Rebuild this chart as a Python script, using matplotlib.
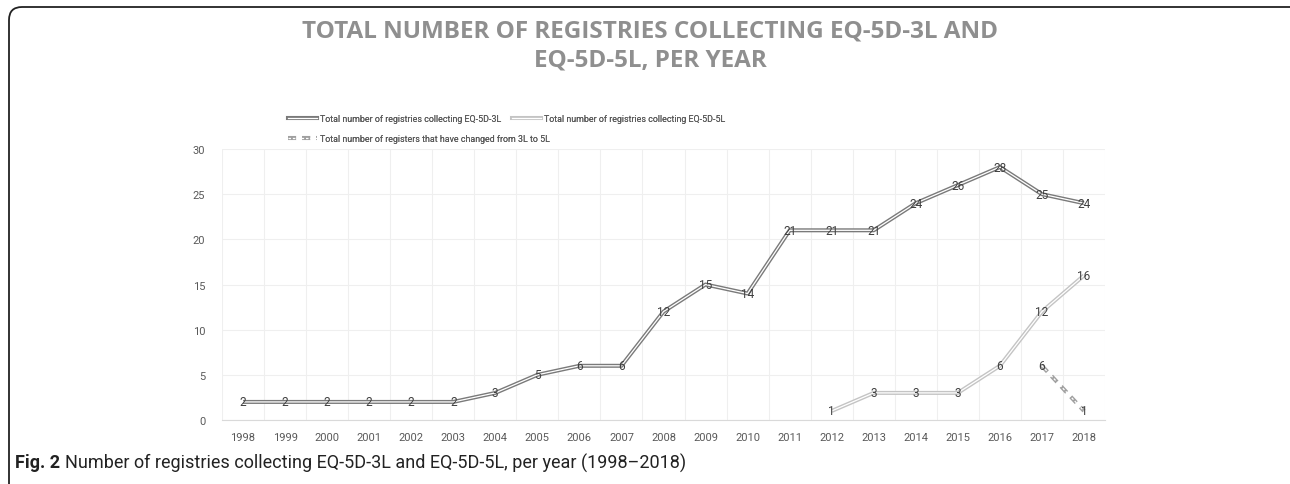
import matplotlib.pyplot as plt
from matplotlib.lines import Line2D
from matplotlib.patches import FancyBboxPatch
from matplotlib.legend_handler import HandlerTuple

years = list(range(1998, 2019))
eq3l = [2, 2, 2, 2, 2, 2, 3, 5, 6, 6, 12, 15, 14, 21, 21, 21, 24, 26, 28, 25, 24]
years_5l = list(range(2012, 2019))
eq5l = [1, 3, 3, 3, 6, 12, 16]
years_changed = [2017, 2018]
changed = [6, 1]

title = "TOTAL NUMBER OF REGISTRIES COLLECTING EQ-5D-3L AND\nEQ-5D-5L, PER YEAR"
lbl_3l = "Total number of registries collecting EQ-5D-3L"
lbl_5l = "Total number of registries collecting EQ-5D-5L"
lbl_ch = "Total number of registers that have changed from 3L to 5L"

font = ['Roboto', 'DejaVu Sans']
W, H = 1290, 485
fig = plt.figure(figsize=(W / 100, H / 100), dpi=100)
ax = fig.add_axes([222 / W, 1 - 421 / H, (1105 - 222) / W, (421 - 150) / H])

dark, light, dashc = '#7a7a7a', '#c4c4c4', '#a0a0a0'
dash = (0, (2, 1.5))

def double_line(x, y, col, ls='-'):
    ax.plot(x, y, color=col, lw=2.9, ls=ls, solid_capstyle='butt', zorder=3)
    ax.plot(x, y, color='white', lw=0.9, ls=ls, solid_capstyle='butt', zorder=4)

xi = {y: i for i, y in enumerate(years)}
double_line([xi[y] for y in years], eq3l, dark)
double_line([xi[y] for y in years_5l], eq5l, light)
double_line([xi[y] for y in years_changed], changed, dashc, ls=dash)

for xs, vs in [(years, eq3l), (years_5l, eq5l), (years_changed, changed)]:
    for y, v in zip(xs, vs):
        ax.text(xi[y], v, str(v), ha='center', va='center', fontsize=8.5,
                color='#404040', family=font, zorder=5)

ax.set_xlim(-0.5, len(years) - 0.5)
ax.set_ylim(0, 30)
ax.set_yticks(range(0, 31, 5))
ax.set_xticks(range(len(years)))
ax.set_xticklabels([str(y) for y in years])
ax.set_xticks([i - 0.5 for i in range(len(years) + 1)], minor=True)
ax.grid(which='minor', axis='x', color='#efefef', lw=0.8)
ax.grid(which='major', axis='y', color='#efefef', lw=0.8)
ax.set_axisbelow(True)
ax.tick_params(which='both', length=0, labelsize=8, labelcolor='#595959')
ax.tick_params(axis='x', pad=9)
ax.tick_params(axis='y', pad=12)
for lab in ax.get_xticklabels() + ax.get_yticklabels():
    lab.set_family(font)
for s in ['top', 'right', 'left']:
    ax.spines[s].set_visible(False)
ax.spines['bottom'].set_color('#d9d9d9')

fig.text(0.504, 1 - 46 / H, title, ha='center', va='center', fontsize=17.5,
         fontweight='bold', color='#8f8f8f', family=['Open Sans', 'DejaVu Sans'],
         linespacing=1.3)

def handle(col, ls='-'):
    return (Line2D([], [], color=col, lw=2.9, ls=ls),
            Line2D([], [], color='white', lw=0.9, ls=ls))

leg_kw = dict(frameon=False, handlelength=3.3, handletextpad=0.3,
              prop={'family': font, 'size': 6.4}, labelcolor='#595959',
              handler_map={tuple: HandlerTuple(ndivide=1)}, borderaxespad=0,
              borderpad=0, loc='center left')
entries = [(handle(dark), lbl_3l, 288, 120),
           (handle(light), lbl_5l, 512, 120),
           (handle(dashc, dash), lbl_ch, 288, 140)]
for h, lbl, px, py in entries:
    fig.add_artist(fig.legend([h], [lbl], bbox_to_anchor=(px / W, 1 - py / H), **leg_kw))

# rounded figure border, drawn in inches
fig.add_artist(FancyBboxPatch((0.09, -0.5), 15, (H - 8) / 100 + 0.5,
                              boxstyle='round,pad=0,rounding_size=0.13',
                              transform=fig.dpi_scale_trans, fill=False,
                              ec='#222222', lw=1.3))

t1 = fig.text(15 / W, 1 - 463 / H, "Fig. 2", ha='left', va='center',
              fontsize=13, fontweight='bold', color='#222222', family=font)
fig.canvas.draw()
bb = t1.get_window_extent()
fig.text((bb.x1 + 5) / W, 1 - 463 / H,
         "Number of registries collecting EQ-5D-3L and EQ-5D-5L, per year (1998\u20132018)",
         ha='left', va='center', fontsize=13, color='#222222', family=font)

fig.savefig('out.png', dpi=100)
